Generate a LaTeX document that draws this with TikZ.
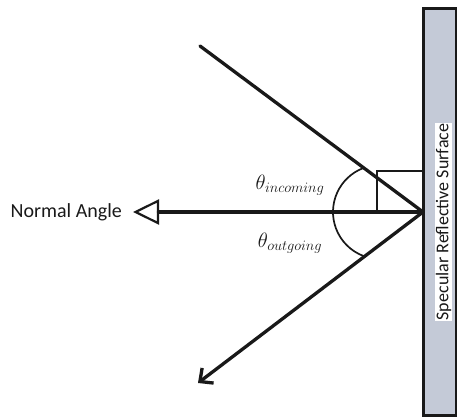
\documentclass[tikz,border=0pt]{standalone}
\usepackage{fontspec}
\setsansfont{Carlito}
\usepackage{tikz}
\usetikzlibrary{arrows.meta,positioning}
\definecolor{surfacegray}{RGB}{196,202,215}
\definecolor{inkblack}{RGB}{25,25,25}

\begin{document}
\begin{tikzpicture}[x=1pt, y=1pt, >=Stealth, line cap=round,
    ray/.style={line width=3.3pt, color=inkblack},
    label/.style={font=\sffamily\fontsize{20}{24}\selectfont, color=inkblack}]
    \useasboundingbox (0,0) rectangle (457,419);

    % Surface
    \filldraw[fill=surfacegray, draw=inkblack, line width=3pt] (423,3) rectangle (456,410);
    \node[label, font=\sffamily\fontsize{18}{22}\selectfont, fill=white, inner sep=1pt, rotate=90] (surface) at (443.5,197) {Specular Reflective Surface};

    % Rays
    \coordinate (hit) at (423,207);
    \coordinate (src) at (200,373);
    \coordinate (dst) at (198,36);
    \draw[ray] (src) -- (hit);
    \draw[ray, -{Straight Barb[length=10pt, width=19pt]}] (hit) -- (dst);

    % Normal
    \node[label, anchor=east, inner sep=0pt, inner xsep=11pt] (normal) at (133,207) {Normal Angle};
    \draw[ray, -{Triangle[open, length=26pt, width=25pt, line width=2.2pt]}] (hit) -- (normal.east);

    % Right angle
    \draw[line width=2.2pt, color=inkblack] (377,207) |- (423,248);

    % Angles
    \draw[line width=1.7pt, color=inkblack] (380,207) ++(110.7:47) arc[start angle=110.7, end angle=249.3, radius=47];
    \node[font=\fontsize{20}{22}\selectfont, color=inkblack] (thetain) at (290,234) {$\theta_{incoming}$};
    \node[font=\fontsize{20}{22}\selectfont, color=inkblack] (thetaout) at (290,176) {$\theta_{outgoing}$};
\end{tikzpicture}
\end{document}
